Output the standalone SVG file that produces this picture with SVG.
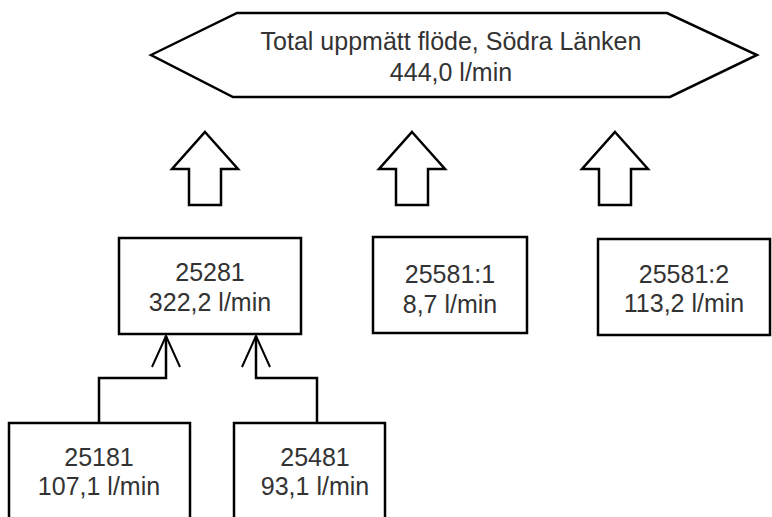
<svg xmlns="http://www.w3.org/2000/svg" width="772" height="517" viewBox="0 0 772 517">
<style>
.shape{fill:#fff;stroke:#000;stroke-width:2.5;stroke-linejoin:miter}
.conn{fill:none;stroke:#000;stroke-width:2.5}
text{font-family:"Liberation Sans",Arial,sans-serif;font-size:25px;fill:#333;text-anchor:middle}
</style>
<defs>
<path id="bigArrow" d="M0,0 L33,37 L16,37 L16,73 L-16,73 L-16,37 L-33,37 Z"/>
<marker id="open" markerUnits="userSpaceOnUse" markerWidth="36" markerHeight="32" viewBox="0 0 36 32" refX="33" refY="16" orient="auto">
<path d="M2,2 L33,16 L2,30" fill="none" stroke="#000" stroke-width="2"/>
</marker>
</defs>
<rect width="772" height="517" fill="#fff"/>
<g id="total">
<polygon class="shape" points="151,55 237,13 667,13 757,55 670,97 233,97"/>
<text x="451" y="50">Total uppmätt flöde, Södra Länken</text>
<text x="451" y="81">444,0 l/min</text>
</g>
<g id="arrows">
<use href="#bigArrow" class="shape" x="205" y="132"/>
<use href="#bigArrow" class="shape" x="412" y="132"/>
<use href="#bigArrow" class="shape" x="615" y="132"/>
</g>
<g id="n25281">
<rect class="shape" x="119" y="238" width="182" height="96"/>
<text x="210" y="281">25281</text>
<text x="210" y="311">322,2 l/min</text>
</g>
<g id="n25581_1">
<rect class="shape" x="373" y="237" width="154" height="96"/>
<text x="450" y="283">25581:1</text>
<text x="450" y="313">8,7 l/min</text>
</g>
<g id="n25581_2">
<rect class="shape" x="598" y="239" width="172" height="96"/>
<text x="684" y="283">25581:2</text>
<text x="684" y="312">113,2 l/min</text>
</g>
<g id="n25181">
<rect class="shape" x="9" y="423" width="181" height="110"/>
<text x="99" y="466">25181</text>
<text x="99" y="495">107,1 l/min</text>
</g>
<g id="n25481">
<rect class="shape" x="234" y="423" width="151" height="110"/>
<text x="315" y="466">25481</text>
<text x="315" y="495">93,1 l/min</text>
</g>
<g id="connectors">
<path class="conn" d="M99,423 V378 H166 V336" marker-end="url(#open)"/>
<path class="conn" d="M317,423 V378 H256 V336" marker-end="url(#open)"/>
</g>
</svg>
